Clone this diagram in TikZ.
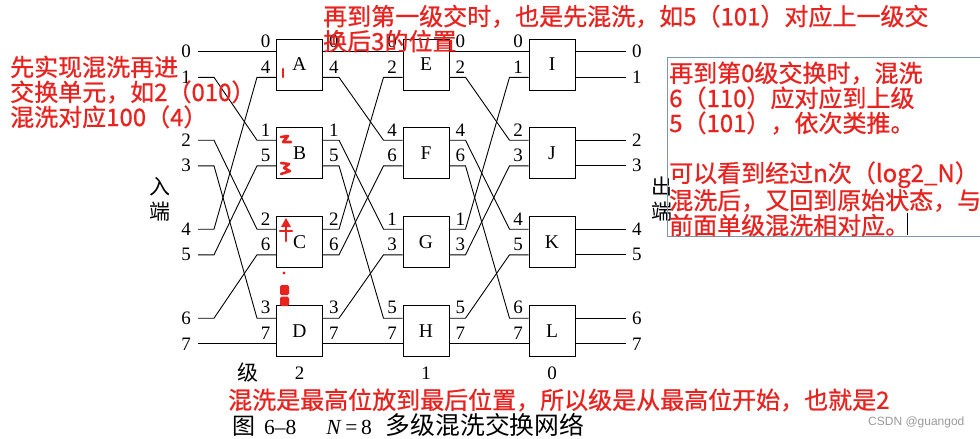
\documentclass[tikz,border=0pt]{standalone}
\usepackage{fontspec}
\setmainfont{Liberation Serif}
\newfontfamily\cjk{Noto Sans CJK SC}
\newfontfamily\notefont{Noto Sans CJK SC}[FakeBold=0.8]
\newfontfamily\wmfont{Liberation Sans}
\usepackage{tikz}
\usepackage{xcolor}
\definecolor{notec}{HTML}{E8231F}
\definecolor{framec}{HTML}{8096AC}
\definecolor{wmc}{HTML}{9A9A9A}
\tikzset{
  switchbox/.style={draw, line width=1pt, minimum width=46pt, minimum height=51pt, inner sep=0pt, font=\fontsize{19.5}{21}\selectfont},
  wire/.style={line width=0.9pt},
  portlbl/.style={inner sep=1pt, font=\fontsize{19}{21}\selectfont},
  hanzi/.style={inner sep=0pt, align=center, font=\cjk\fontsize{21}{25}\selectfont},
  note/.style={text=notec, inner sep=0pt, align=left, font=\notefont\fontsize{24}{25}\selectfont},
  scrawl/.style={draw=notec, line width=2.6pt, line cap=round, line join=round},
}

\begin{document}
\begin{tikzpicture}[x=1pt, y=-1pt]
\clip (0,0) rectangle (980,439);
\fill[white] (0,0) rectangle (980,439);
\node[switchbox] (A) at (299.5,64.5) {A};
\node[switchbox] (B) at (299.5,153) {B};
\node[switchbox] (C) at (299.5,242) {C};
\node[switchbox] (D) at (299.5,331) {D};
\node[switchbox] (E) at (426,64.5) {E};
\node[switchbox] (F) at (426,153) {F};
\node[switchbox] (G) at (426,242) {G};
\node[switchbox] (H) at (426,331) {H};
\node[switchbox] (I) at (552,64.5) {I};
\node[switchbox] (J) at (552,153) {J};
\node[switchbox] (K) at (552,242) {K};
\node[switchbox] (L) at (552,331) {L};
\foreach \b in {A,...,L} {
  \coordinate (\b-i0) at ([yshift=12.8pt]\b.west);
  \coordinate (\b-i1) at ([yshift=-12.8pt]\b.west);
  \coordinate (\b-o0) at ([yshift=12.8pt]\b.east);
  \coordinate (\b-o1) at ([yshift=-12.8pt]\b.east);
}
\foreach \k/\y in {0/51.7,1/77.3,2/140.2,3/165.8,4/229.2,5/254.8,6/318.2,7/343.8} {
  \coordinate (in\k) at (198,\y);
  \coordinate (out\k) at (626,\y);
  \node[portlbl, anchor=east] (inl\k) at ([xshift=-6pt]in\k) {\k};
  \node[portlbl, anchor=west] (outl\k) at ([xshift=5pt]out\k) {\k};
}
\foreach \s/\d in {in0/A-i0, in1/B-i0, in2/C-i0, in3/D-i0, in4/A-i1, in5/B-i1, in6/C-i1, in7/D-i1,
    A-o0/E-i0, A-o1/F-i0, B-o0/G-i0, B-o1/H-i0, C-o0/E-i1, C-o1/F-i1, D-o0/G-i1, D-o1/H-i1,
    E-o0/I-i0, E-o1/J-i0, F-o0/K-i0, F-o1/L-i0, G-o0/I-i1, G-o1/J-i1, H-o0/K-i1, H-o1/L-i1}
  \draw[wire] (\s) -- ++(16,0) -- ([xshift=-19pt]\d) -- (\d);
\foreach \s/\d in {I-o0/out0, I-o1/out1, J-o0/out2, J-o1/out3, K-o0/out4, K-o1/out5, L-o0/out6, L-o1/out7}
  \draw[wire] (\s) -- (\d);
\foreach \b/\u/\l in {A/0/4, B/1/5, C/2/6, D/3/7, E/0/2, F/4/6, G/1/3, H/5/7, I/0/1, J/2/3, K/4/5, L/6/7} {
  \node[portlbl, anchor=south east] at ([shift={(-4.5pt,3pt)}]\b-i0) {\u};
  \node[portlbl, anchor=south east] at ([shift={(-4.5pt,3pt)}]\b-i1) {\l};
}
\foreach \b/\u/\l in {A/0/4, B/1/5, C/2/6, D/3/7, E/0/2, F/4/6, G/1/3, H/5/7} {
  \node[portlbl, anchor=south west] at ([shift={(5pt,3pt)}]\b-o0) {\u};
  \node[portlbl, anchor=south west] at ([shift={(5pt,3pt)}]\b-o1) {\l};
}
\node[portlbl] (lv2) at ([yshift=-16pt]D.south) {2};
\node[portlbl] (lv1) at ([yshift=-16pt]H.south) {1};
\node[portlbl] (lv0) at ([yshift=-16pt]L.south) {0};
\node[hanzi] (lvtitle) at (248,373) {级};
\node[hanzi] (inside) at (160,199) {入\\端};
\node[hanzi] (outside) at (662,199) {出\\端};
\draw[framec, line width=1pt] (667,57) rectangle (990,236);
\draw[line width=0.8pt] (907,213) -- (907,235);
\node[note, anchor=west] (shufnote) at (10,92) {先实现混洗再进\\交换单元，如2（010）\\混洗对应100（4）};
\node[note, anchor=west] (lv1note) at (323,28.5) {再到第一级交时，也是先混洗，如5（101）对应上一级交\\换后3的位置};
\node[note, anchor=west] (lv0note) at (669,149) {再到第0级交换时，混洗\\6（110）应对应到上级\\5（101），依次类推。\\[25pt]可以看到经过n次（log2\_N）\\混洗后，又回到原始状态，与\\前面单级混洗相对应。};
\node[note, anchor=west] (bitnote) at (228,400) {混洗是最高位放到最后位置，所以级是从最高位开始，也就是2};
\node[anchor=west, inner sep=0pt, font=\fontsize{21.5}{23}\selectfont] (caption) at (232,425) {{\cjk\fontsize{23}{25}\selectfont 图}\hspace{9pt}6--8\hspace{30pt}\textit{N}\,=\,8\hspace{14pt}{\cjk\fontsize{24.8}{25}\selectfont 多级混洗交换网络}};
\node[anchor=west, inner sep=0pt, text=wmc, font=\wmfont\fontsize{12}{14}\selectfont] (wmark) at (868,422) {CSDN @guangod};
\draw[scrawl] (283,69) -- (283,77);
\draw[scrawl] (281,137) -- (288,136) -- (283,142) -- (291,142);
\draw[scrawl] (281,163) -- (289,164) -- (284,168) -- (290,171) -- (281,174);
\draw[scrawl] (286,221) -- (286,241);
\draw[scrawl] (280,231) -- (292,231);
\fill[notec] (281,227) -- (286,218) -- (291,227) -- cycle;
\fill[notec] (284,273) circle (1.6);
\fill[notec, rounded corners=1.5pt] (280,285) rectangle (289,295);
\fill[notec, rounded corners=1.5pt] (280,296.5) rectangle (289,306);
\end{tikzpicture}
\end{document}
